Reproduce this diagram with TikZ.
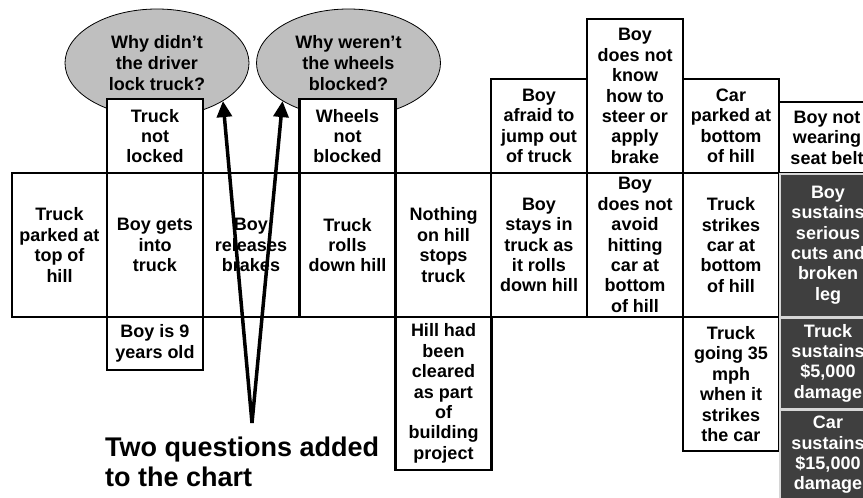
\documentclass[tikz,border=0pt]{standalone}
\usepackage{fontspec}
\setmainfont{Liberation Sans}
\usetikzlibrary{shapes.geometric,arrows.meta}
\definecolor{qfill}{HTML}{BFBFBF}
\definecolor{outcome}{HTML}{3F3F3F}
\definecolor{outline}{HTML}{D6D6D6}
\begin{document}
\begin{tikzpicture}[x=1pt,y=-1pt,
  cell/.style={draw=black,line width=2.8pt,fill=white,align=center,inner sep=0pt,
    font=\bfseries\fontsize{18}{20.4}\selectfont,minimum width=96,text=black},
  result/.style={draw=outline,line width=2pt,fill=outcome,align=center,inner sep=0pt,
    font=\bfseries\fontsize{18}{20.4}\selectfont,minimum width=96,text=white},
  question/.style={ellipse,draw=black,line width=0.8pt,fill=qfill,align=center,inner sep=0pt,
    font=\bfseries\fontsize{18}{21}\selectfont,minimum width=184,minimum height=108},
  qarrow/.style={line width=3.5pt,-{Triangle[length=16pt,width=15pt]}},
  note/.style={align=left,inner sep=0pt,font=\bfseries\fontsize{27}{30}\selectfont}]
\useasboundingbox (0,0) rectangle (863,498);
\clip (0,0) rectangle (863,498);

% questions
\node[question] (q1) at (157,63) {Why didn’t\\the driver\\lock truck?};
\node[question] (q2) at (348.5,63) {Why weren’t\\the wheels\\blocked?};

% main sequence of events
\node[cell,minimum width=95,minimum height=144] (e1) at (59.5,245) {Truck\\parked at\\top of\\hill};
\node[cell,minimum height=144] (e2) at (155,245) {Boy gets\\into\\truck};
\node[cell,minimum height=144] (e3) at (251,245) {Boy\\releases\\brakes};
\node[cell,minimum height=144] (e4) at (347.5,245) {Truck\\rolls\\down hill};
\node[cell,minimum height=144] (e5) at (443.5,245) {Nothing\\on hill\\stops\\truck};
\node[cell,minimum height=144] (e6) at (539,245) {Boy\\stays in\\truck as\\it rolls\\down hill};
\node[cell,minimum height=144] (e7) at (635,245) {Boy\\does not\\avoid\\hitting\\car at\\bottom\\of hill};
\node[cell,minimum height=144] (e8) at (731,245) {Truck\\strikes\\car at\\bottom\\of hill};

% conditions above
\node[cell,minimum height=74] (c2) at (155,136) {Truck\\not\\locked};
\node[cell,minimum height=74] (c4) at (347.5,136) {Wheels\\not\\blocked};
\node[cell,minimum height=94] (c6) at (539,126) {Boy\\afraid to\\jump out\\of truck};
\node[cell,minimum height=154] (c7) at (635,96) {Boy\\does not\\know\\how to\\steer or\\apply\\brake};
\node[cell,minimum height=94] (c8) at (731,126) {Car\\parked at\\bottom\\of hill};
\node[cell,minimum height=71] (c9) at (827,137.5) {Boy not\\wearing\\seat belt};

% conditions below
\node[cell,minimum height=53] (b2) at (155,343.5) {Boy is 9\\years old};
\node[cell,minimum height=153] (b5) at (443.5,393.5) {Hill had\\been\\cleared\\as part\\of\\building\\project};
\node[cell,minimum height=134] (b8) at (731,384) {Truck\\going 35\\mph\\when it\\strikes\\the car};

% outcomes
\node[result,minimum height=143] (r1) at (828,245) {Boy\\sustains\\serious\\cuts and\\broken\\leg};
\node[result,minimum height=91] (r2) at (828,363) {Truck\\sustains\\\$5,000\\damage};
\node[result,minimum height=90] (r3) at (828,455) {Car\\sustains\\\$15,000\\damage};

% pointers to the questions
\coordinate (apex) at (252,423);
\draw[qarrow] (apex) -- (q1.-30);
\draw[qarrow] (apex) -- (q2.-150);

\node[note,anchor=base west] (lbl) at (105,486) {Two questions added\\to the chart};
\end{tikzpicture}
\end{document}
